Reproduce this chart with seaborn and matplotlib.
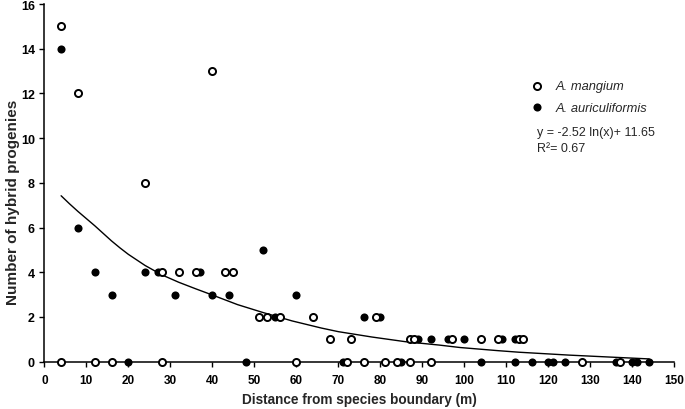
import pandas as pd
import matplotlib
matplotlib.use("Agg")
import matplotlib.pyplot as plt
import seaborn as sns

# A. mangium (open circles)
mangium_x = [4, 8, 40, 24, 28, 32, 36, 43, 45, 51, 53, 56, 64, 68, 73, 79, 87, 88,
             97, 104, 108, 113, 114,
             4, 12, 16, 28, 60, 72, 76, 81, 84, 87, 92, 128, 137]
mangium_y = [15, 12, 13, 8, 4, 4, 4, 4, 4, 2, 2, 2, 2, 1, 1, 2, 1, 1,
             1, 1, 1, 1, 1,
             0, 0, 0, 0, 0, 0, 0, 0, 0, 0, 0, 0, 0]

# A. auriculiformis (filled circles)
auric_x = [4, 8, 12, 16, 24, 27, 31, 37, 40, 44, 52, 55, 60, 76, 80, 89, 92, 96,
           100, 109, 112,
           20, 48, 71, 85, 104, 112, 116, 120, 121, 124, 136, 140, 141, 144]
auric_y = [14, 6, 4, 3, 4, 4, 3, 4, 3, 3, 5, 2, 3, 2, 2, 1, 1, 1,
           1, 1, 1,
           0, 0, 0, 0, 0, 0, 0, 0, 0, 0, 0, 0, 0, 0]

# trend line, points
curve_x = [4, 6, 8, 10, 12, 14, 16, 18, 20, 24, 28, 32, 36, 40, 46, 52, 59, 66, 70,
           78, 86, 94, 99, 108, 113, 125, 135, 144]
curve_y = [7.42, 7.06, 6.72, 6.40, 6.08, 5.74, 5.40, 5.09, 4.80, 4.30, 3.88, 3.55, 3.26,
           2.98, 2.55, 2.20, 1.82, 1.50, 1.34, 1.10, 0.89, 0.74, 0.63, 0.49, 0.42,
           0.29, 0.20, 0.12]

equation = "y = -2.52 ln(x)+ 11.65\nR\u00b2= 0.67"

mangium = pd.DataFrame({"x": mangium_x, "y": mangium_y})
auric = pd.DataFrame({"x": auric_x, "y": auric_y})
curve = pd.DataFrame({"x": curve_x, "y": curve_y})

sns.set_style("ticks")
plt.rcParams["font.family"] = ["Liberation Sans", "DejaVu Sans"]

fig = plt.figure(figsize=(6.85, 4.1), dpi=100)
ax = fig.add_axes([0.0647, 0.1156, 0.9197, 0.8722])

sns.lineplot(data=curve, x="x", y="y", color="black", linewidth=1.0, sort=False, ax=ax)
sns.scatterplot(data=auric, x="x", y="y", color="black", s=34, linewidth=0,
                label="A. auriculiformis", clip_on=False, zorder=3, ax=ax)
sns.scatterplot(data=mangium, x="x", y="y", color="white", edgecolor="black", s=26,
                linewidth=1.4, label="A. mangium", clip_on=False, zorder=4, ax=ax)

ax.set_xlim(0, 150)
ax.set_ylim(0, 16)
ax.set_xticks(range(0, 151, 10))
ax.set_yticks(range(0, 17, 2))
ax.tick_params(axis="both", direction="out", length=3.8, width=1.0, colors="black")
ax.tick_params(axis="x", pad=5)
ax.tick_params(axis="y", pad=3)
for lab in ax.get_xticklabels():
    lab.set_fontweight("bold")
    lab.set_fontsize(8.5)
for lab in ax.get_yticklabels():
    lab.set_fontweight("bold")
    lab.set_fontsize(9)
for side in ["left", "bottom"]:
    ax.spines[side].set_linewidth(1.1)
    ax.spines[side].set_color("black")
sns.despine(ax=ax)

ax.set_xlabel("Distance from species boundary (m)", fontsize=9.8, fontweight="bold")
ax.set_ylabel("Number of hybrid progenies", fontsize=11, fontweight="bold")
ax.xaxis.set_label_coords(0.5, -0.085)
ax.yaxis.set_label_coords(-0.0385, 0.449)

handles, labels = ax.get_legend_handles_labels()
leg = ax.legend(handles[::-1], labels[::-1], loc="upper left",
                bbox_to_anchor=(0.775, 0.802), bbox_transform=fig.transFigure,
                frameon=False, prop={"style": "italic", "size": 9.3},
                handlelength=1.0, handletextpad=0.95, labelspacing=0.72,
                borderpad=0, borderaxespad=0)

fig.text(537 / 685, 1 - 127 / 410, equation, fontsize=9, va="top", ha="left",
         linespacing=1.4)

plt.savefig("out.png", dpi=100)
plt.close()
